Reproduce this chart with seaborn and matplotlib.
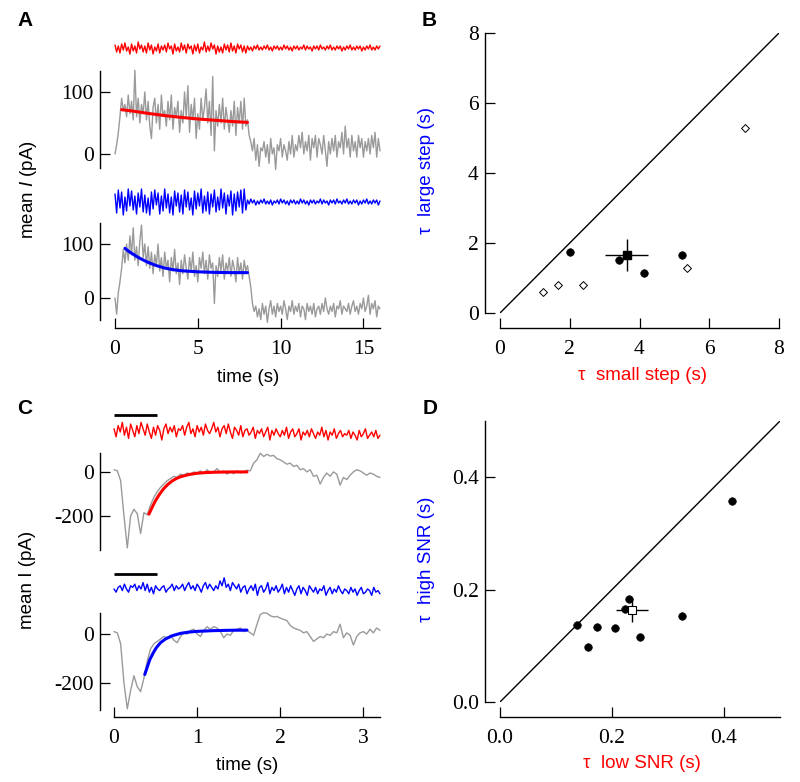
import numpy as np
import pandas as pd
import matplotlib
matplotlib.use("Agg")
import matplotlib.pyplot as plt
import seaborn as sns

# ---------------- data ----------------
# Panel A (sampled every 0.1 s, 0..16 s)
a_dt = 0.1
a_gray_small = [0, 15, 35, 60, 90, 70, 80, 60, 95, 65,
                85, 55, 135, 60, 90, 50, 80, 65, 100, 55,
                85, 45, 25, 75, 90, 50, 80, 40, 95, 60,
                70, 45, 85, 55, 95, 40, 75, 60, 85, 35,
                70, 50, 100, 60, 110, 35, 80, 55, 90, 25,
                65, 40, 90, 55, 75, 105, 50, 85, 30, 125,
                5, 70, 45, 80, 50, 90, 40, 75, 55, 35,
                70, 45, 85, 30, 75, 50, 85, 40, 90, 45,
                55, 30, 20, 5, 25, -10, 15, -20, 10, 5,
                20, -5, 15, -15, 25, 0, 10, -25, 15, 5,
                25, -5, 15, 5, -10, 20, 0, 30, -5, 15,
                5, 30, 10, 35, 0, 20, 5, 30, -10, 25,
                10, 30, -5, 25, 15, 0, 30, 5, -20, 20,
                0, 25, 5, 30, -5, 20, 10, 35, 0, 45,
                10, 25, -5, 30, 5, 20, -5, 30, 10, 25,
                -5, 20, 5, 25, 0, 30, 10, 35, -5, 25,
                5]
a_gray_large = [0, -30, 10, 30, 55, 90, 65, 100, 70, 115,
                80, 130, 70, 95, 60, 105, 135, 75, 100, 60,
                95, 55, 85, 45, 80, 60, 100, 50, 75, 40,
                85, 55, 70, 30, 75, 50, 90, 45, 65, 25,
                70, 45, 80, 55, 35, 75, 50, 85, 40, 60,
                30, 75, 55, 85, 45, 70, 35, 80, 55, 65,
                -10, 60, 40, 75, 50, 80, 35, 65, 50, 75,
                40, 70, 55, 30, 75, 45, 65, 35, 70, 50,
                60, 40, 20, -10, -25, -15, -35, -20, -40, -10,
                -30, -15, -45, -20, -5, -30, -15, -35, -10, -25,
                -15, -30, -5, -20, -40, -15, -25, -5, -30, -15,
                -25, -10, -35, -15, -20, -40, -10, -25, -15, -30,
                -10, -35, -20, -15, -30, -10, -25, 0, -20, -30,
                -15, -25, -10, -35, -15, -20, -5, -30, -15, -20,
                -25, -10, -30, -15, -5, -25, -15, -30, -10, -20,
                0, -25, -15, 5, -30, -10, -20, -5, -35, -15,
                -20]
a_noise_red = [3, -4, 2, -5, 4, -2, 5, -3, 1, -6, 4, -3, 2, -5, 6, -1, 3, -4, 2, -5,
               5, -2, 3, -6, 1, -3, 4, -5, 2, -2, 3, -4, 5, -1, 2, -6, 4, -3, 1, -4,
               5, -2, 3, -5, 4, -1, 2, -6, 3, -3, 4, -5, 1, -2, 6, -4, 2, -3, 5, -1,
               3, -6, 2, -4, 1, -5, 4, -2, 3, -4, 5, -3, 2, -5, 4, -1, 3, -4, 2, -5,
               2, -2, 1, -3, 2, -1, 3, -2, 1, -2, 2, -1, 3, -2, 1, -3, 2, -1, 2, -2,
               1, -2, 3, -1, 2, -2, 1, -3, 2, -1, 2, -2, 1, -1, 3, -2, 2, -1, 1, -3,
               2, -1, 2, -2, 3, -1, 1, -2, 2, -1, 3, -2, 1, -2, 2, -1, 2, -3, 1, -2,
               2, -1, 3, -2, 1, -2, 2, -1, 2, -3, 1, -2, 2, -1, 3, -2, 1, -2, 2, -1,
               2]
a_noise_blue = [8, -11, 12, -6, 10, -13, 5, -9, 13, -4, 11, -8, 6, -12, 9, -5, 13, -10, 7, -11,
                4, -13, 10, -7, 12, -3, 9, -12, 6, -9, 13, -6, 8, -11, 5, -13, 11, -4, 9, -10,
                7, -12, 12, -5, 10, -8, 4, -13, 11, -7, 9, -4, 13, -11, 6, -9, 10, -12, 8, -5,
                12, -10, 5, -8, 13, -6, 9, -12, 7, -4, 11, -13, 8, -9, 10, -5, 12, -11, 13, -8,
                2, -2, 3, -1, 2, -3, 1, -2, 2, -1, 3, -2, 1, -2, 2, -3, 1, -1, 2, -2,
                3, -1, 2, -2, 1, -3, 2, -1, 2, -2, 1, -2, 3, -1, 2, -2, 1, -3, 2, -1,
                2, -2, 1, -1, 3, -2, 2, -1, 1, -3, 2, -1, 2, -2, 3, -1, 1, -2, 2, -1,
                3, -2, 1, -2, 2, -1, 2, -3, 1, -2, 2, -1, 3, -2, 1, -2, 2, -1, 2, -3,
                1]
a_fit_red_t = [0.4, 1, 2, 3, 4, 5, 6, 7, 8]
a_fit_red_v = [71.5, 69.5, 65.5, 62, 59, 56.5, 54.5, 52.5, 51]
a_fit_blue_t = [0.6, 0.8, 1.0, 1.3, 1.6, 2.0, 2.5, 3.0, 3.5, 4.0, 5.0, 6.0, 7.0, 8.0]
a_fit_blue_v = [92, 87, 83, 77, 72, 66, 60, 55.5, 52.5, 50.5, 48.5, 47.5, 47, 47]

# Panel C (gray sampled every 0.04 s, noise every 0.025 s, 0..3.2 s)
c_dt_gray = 0.04
c_dt_noise = 0.025
c_gray_low = [10, 5, -40, -200, -345, -200, -170, -190, -280, -185,
              -195, -150, -115, -90, -70, -55, -40, -30, -20, -25,
              -10, -15, -5, -10, 0, -5, 5, -8, 10, -5,
              0, 15, -3, 5, -10, 0, -8, 5, -5, 0,
              8, 5, 40, 55, 85, 70, 80, 72, 75, 60,
              55, 45, 35, 40, 25, 30, 10, 15, 0, 10,
              -20, -15, -55, -25, -5, -20, 0, -10, -60, -25,
              -35, -15, 0, 10, 5, -5, -15, -5, -10, -20,
              -25]
c_gray_high = [10, 5, -40, -200, -305, -230, -170, -215, -235, -180,
               -110, -60, -40, -30, -20, -10, -15, -5, -25, -35,
               -10, 5, 0, 15, 20, 0, -10, 15, 30, 20,
               30, 25, 10, -15, 0, -5, 15, 20, 25, 10,
               15, 5, -5, 40, 80, 87, 85, 75, 70, 72,
               65, 60, 55, 35, 25, 20, 15, 5, 10, -10,
               -30, -20, -10, -15, 0, -5, 10, 5, 40, -15,
               5, -5, -45, -10, 5, 10, 0, 20, 5, 25,
               15]
c_noise_red = [2, -3, 4, 0, 6, -2, 3, -4, 5, 1, -3, 4, -1, 6, 2, -2,
               5, 0, -4, 3, -2, 4, 1, -5, 2, 5, -1, 3, 0, 4, -3, 2,
               1, 4, -2, 3, 6, -1, 2, -3, 4, 0, 3, -2, 5, 1, -1, 2,
               6, 0, 3, -3, 2, 4, -1, 5, 0, -4, 3, 1, -2, 4, -3, 1,
               2, -2, 0, 3, -4, 1, -1, 2, -3, 0, 3, -5, 1, -2, 2, -1,
               -3, 1, -2, 3, -4, 0, 2, -3, -1, 2, -5, 0, -2, 1, -3, 2,
               -1, -4, 0, -2, 3, -3, 1, -5, 0, -2, 2, -4, -1, 1, -3, -1,
               -2, 1, -4, 0, -2, -5, 1, -3, -1, 2, -4, -2, 0, -3, 1, -4,
               -2]
c_noise_blue = [0, -2, 1, 2, -1, 3, 0, -2, 2, 1, 3, -1, 2, 0, 4, -1,
                3, -2, 1, -3, 2, 0, -1, 1, 2, -2, 0, 1, 3, -1, 2, 0,
                1, 3, -1, 2, 4, 0, 2, -1, 3, 1, -2, 2, 4, 0, 3, 1,
                -1, 2, 0, 5, 2, 7, 1, 3, -1, 4, 2, 0, 3, -2, 1, 2,
                -3, 0, 2, -1, 3, -4, 1, 2, -2, 0, 4, -3, 1, -1, 2, -2,
                0, 3, -3, 1, -2, 2, -1, -4, 0, 2, -3, 1, -1, -4, 2, 0,
                -2, 1, -3, 0, -1, 2, -4, -1, 1, -3, 0, -2, 2, -1, -3, 0,
                -1, -3, 1, -2, 0, -4, -1, 1, -3, -2, 0, -1, -4, 1, -2, -1,
                -3]
c_fit_red_t = [0.42, 0.46, 0.50, 0.55, 0.60, 0.65, 0.70, 0.75, 0.80, 0.90, 1.0, 1.1, 1.2, 1.4, 1.6]
c_fit_red_v = [-192, -160, -130, -100, -75, -56, -41, -30, -22, -12, -6, -3, -1.5, 0, 0]
c_fit_blue_t = [0.37, 0.40, 0.43, 0.47, 0.51, 0.56, 0.62, 0.70, 0.80, 0.90, 1.0, 1.2, 1.4, 1.6]
c_fit_blue_v = [-165, -135, -105, -78, -55, -35, -20, -7, 3, 8, 11, 14, 15.5, 16]
c_stim = [0, 0.52]

# Panel B
b_circ_x = [2.02, 3.41, 4.13, 5.23]
b_circ_y = [1.74, 1.52, 1.13, 1.67]
b_diam_x = [1.22, 1.65, 2.37, 5.37, 7.03]
b_diam_y = [0.59, 0.79, 0.79, 1.29, 5.28]
b_mean = [3.63, 1.65]
b_err = [0.62, 0.45]

# Panel D
d_x = [0.1375, 0.158, 0.174, 0.205, 0.223, 0.230, 0.250, 0.325, 0.415]
d_y = [0.137, 0.0975, 0.134, 0.132, 0.166, 0.183, 0.1165, 0.153, 0.358]
d_mean = [0.236, 0.164]
d_err = [0.028, 0.021]

# ---------------- style ----------------
sns.set_style("ticks")
plt.rcParams['font.family'] = ['Liberation Sans', 'DejaVu Sans']
plt.rcParams['mathtext.fontset'] = 'custom'
plt.rcParams['mathtext.it'] = 'Liberation Sans:italic'
plt.rcParams['mathtext.rm'] = 'Liberation Sans'
plt.rcParams['axes.unicode_minus'] = False
plt.rcParams['text.color'] = 'black'
plt.rcParams['axes.labelcolor'] = 'black'
plt.rcParams['axes.edgecolor'] = 'black'
plt.rcParams['xtick.color'] = 'black'
plt.rcParams['ytick.color'] = 'black'

W, H = 800, 782
fig = plt.figure(figsize=(W / 100, H / 100), dpi=100)

GRAY = '#9a9a9a'
RED = '#ff0000'
BLUE = '#0000ff'
TICKFONT = 15.5
LABELFONT = 13.5


def add_ax(l, t, r, b):
    return fig.add_axes([l / W, 1 - b / H, (r - l) / W, (b - t) / H])


def style_axes(ax, left_off, bottom_off=None):
    ax.set_facecolor('none')
    for s in ['top', 'right']:
        ax.spines[s].set_visible(False)
    ax.spines['left'].set_position(('outward', left_off))
    ax.spines['left'].set_linewidth(1.0)
    ax.tick_params(direction='in', length=7.2, width=0.9, labelsize=TICKFONT,
                   labelfontfamily='Liberation Serif', pad=4.5, colors='black')
    if bottom_off is None:
        ax.spines['bottom'].set_visible(False)
        ax.tick_params(bottom=False, labelbottom=False)
    else:
        ax.spines['bottom'].set_position(('outward', bottom_off))
        ax.spines['bottom'].set_linewidth(1.0)
        ax.tick_params(axis='x', pad=8.5)
    ax.set_xlabel('')
    ax.set_ylabel('')


def trace(ax, t, v, color, lw):
    sns.lineplot(x=t, y=v, ax=ax, color=color, linewidth=lw, estimator=None,
                 sort=False, clip_on=False)


# ---------------- Panel A ----------------
tA = np.arange(len(a_gray_small)) * a_dt
ax = add_ax(115, 38, 380, 58)
trace(ax, tA, a_noise_red, RED, 1.0)
ax.set_xlim(0, 16); ax.set_ylim(-10, 10); ax.axis('off')

ax = add_ax(115, 71, 380, 168)
trace(ax, tA, a_gray_small, GRAY, 1.0)
trace(ax, a_fit_red_t, a_fit_red_v, RED, 2.2)
ax.set_xlim(0, 16); ax.set_ylim(-22.6, 133.9)
ax.set_yticks([0, 100])
style_axes(ax, 10.8)

ax = add_ax(115, 186, 380, 218)
trace(ax, tA, a_noise_blue, BLUE, 1.0)
ax.set_xlim(0, 16); ax.set_ylim(-16, 16); ax.axis('off')

ax = add_ax(115, 223, 380, 320)
trace(ax, tA, a_gray_large, GRAY, 1.0)
trace(ax, a_fit_blue_t, a_fit_blue_v, BLUE, 2.2)
ax.set_xlim(0, 16); ax.set_ylim(-40.7, 138.9)
ax.set_yticks([0, 100]); ax.set_xticks([0, 5, 10, 15])
style_axes(ax, 10.8, 5.8)

fig.text(248 / W, 1 - 377 / H, 'time (s)', ha='center', va='center', fontsize=LABELFONT)
fig.text(29 / W, 1 - 190 / H, r'mean $\mathit{I}$ (pA)', ha='center', va='center',
         rotation=90, fontsize=LABELFONT)

# ---------------- Panel C ----------------
tCg = np.arange(len(c_gray_low)) * c_dt_gray
tCn = np.arange(len(c_noise_red)) * c_dt_noise

ax = add_ax(114, 410, 380, 450)
trace(ax, tCn, c_noise_red, RED, 1.0)
ax.plot(c_stim, [10.6, 10.6], color='black', lw=2.0, solid_capstyle='butt')
ax.set_xlim(0, 3.2); ax.set_ylim(-11.25, 13.75); ax.axis('off')

ax = add_ax(114, 453, 380, 550)
trace(ax, tCg, c_gray_low, GRAY, 1.0)
trace(ax, c_fit_red_t, c_fit_red_v, RED, 2.2)
ax.set_xlim(0, 3.2); ax.set_ylim(-355, 86)
ax.set_yticks([-200, 0])
style_axes(ax, 10.1)

ax = add_ax(114, 568, 380, 604)
trace(ax, tCn, c_noise_blue, BLUE, 1.0)
ax.plot(c_stim, [9.4, 9.4], color='black', lw=2.0, solid_capstyle='butt')
ax.set_xlim(0, 3.2); ax.set_ylim(-9.4, 13.1); ax.axis('off')

ax = add_ax(114, 613, 380, 710)
trace(ax, tCg, c_gray_high, GRAY, 1.0)
trace(ax, c_fit_blue_t, c_fit_blue_v, BLUE, 2.2)
ax.set_xlim(0, 3.2); ax.set_ylim(-310, 86)
ax.set_yticks([-200, 0]); ax.set_xticks([0, 1, 2, 3])
style_axes(ax, 10.1, 5.0)

fig.text(247 / W, 1 - 765 / H, 'time (s)', ha='center', va='center', fontsize=LABELFONT)
fig.text(28 / W, 1 - 580 / H, 'mean I (pA)', ha='center', va='center',
         rotation=90, fontsize=LABELFONT)

# ---------------- Panel B ----------------
ax = add_ax(500, 33, 779, 313)
ax.plot([0, 8], [0, 8], color='black', lw=1.0)
sns.scatterplot(x=b_diam_x, y=b_diam_y, ax=ax, marker='D', s=16, facecolor='white',
                edgecolor='black', linewidth=0.7, zorder=3)
sns.scatterplot(x=b_circ_x, y=b_circ_y, ax=ax, marker='o', s=30, color='black',
                edgecolor='black', zorder=3)
ax.errorbar([b_mean[0]], [b_mean[1]], xerr=[b_err[0]], yerr=[b_err[1]], fmt='s',
            color='black', ms=5.5, elinewidth=1.0, capsize=0, zorder=4)
ax.set_xlim(0, 8); ax.set_ylim(0, 8)
ax.set_xticks([0, 2, 4, 6, 8]); ax.set_yticks([0, 2, 4, 6, 8])
style_axes(ax, 10.8, 10.8)
fig.text(642 / W, 1 - 375 / H, 'τ  small step (s)', ha='center', va='center',
         fontsize=LABELFONT, color=RED)
fig.text(427 / W, 1 - 170 / H, 'τ  large step (s)', ha='center', va='center',
         rotation=90, fontsize=LABELFONT, color=BLUE)

# ---------------- Panel D ----------------
ax = add_ax(500, 421, 780, 702)
ax.plot([0, 0.5], [0, 0.5], color='black', lw=1.0)
sns.scatterplot(x=d_x, y=d_y, ax=ax, marker='o', s=30, color='black',
                edgecolor='black', zorder=3)
ax.errorbar([d_mean[0]], [d_mean[1]], xerr=[d_err[0]], yerr=[d_err[1]], fmt='s',
            color='black', mfc='white', ms=5.5, mew=0.8, elinewidth=1.0, capsize=0, zorder=4)
ax.set_xlim(0, 0.5); ax.set_ylim(0, 0.5)
ax.set_xticks([0, 0.2, 0.4]); ax.set_yticks([0, 0.2, 0.4])
ax.set_xticklabels(['0.0', '0.2', '0.4']); ax.set_yticklabels(['0.0', '0.2', '0.4'])
style_axes(ax, 10.8, 10.8)
fig.text(642 / W, 1 - 763 / H, 'τ  low SNR (s)', ha='center', va='center',
         fontsize=LABELFONT, color=RED)
fig.text(427 / W, 1 - 559 / H, 'τ  high SNR (s)', ha='center', va='center',
         rotation=90, fontsize=LABELFONT, color=BLUE)

# ---------------- Panel letters ----------------
for letter, x, y in [('A', 17, 20), ('B', 422, 20), ('C', 17, 408), ('D', 423, 408)]:
    fig.text(x / W, 1 - y / H, letter, ha='left', va='center', fontsize=15,
             fontweight='bold', color='black')

fig.savefig('out.png', dpi=100)
